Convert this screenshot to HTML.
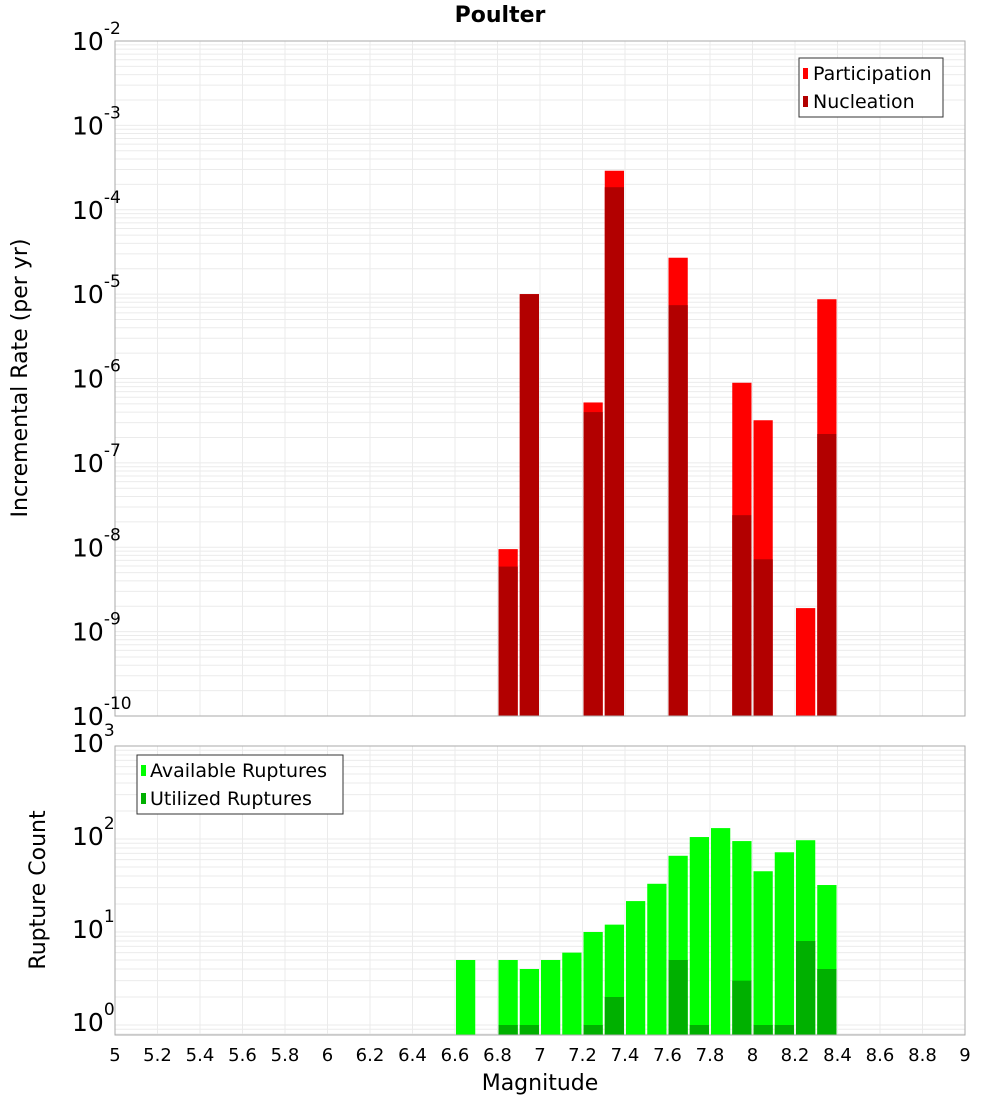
<!DOCTYPE html>
<html><head><meta charset="utf-8"><style>
body{margin:0;background:#fff;}
svg text{font-family:"DejaVu Sans","Liberation Sans",sans-serif;}
</style></head><body>
<svg id="chart" width="1000" height="1100" xmlns="http://www.w3.org/2000/svg">
<text x="500" y="22" text-anchor="middle" font-size="22" font-weight="bold">Poulter</text>
<g id="top"></g>
<g id="bot"></g>
<text transform="translate(27,378) rotate(-90)" text-anchor="middle" font-size="22">Incremental Rate (per yr)</text>
<text transform="translate(45,890) rotate(-90)" text-anchor="middle" font-size="22">Rupture Count</text>
<text x="540" y="1090" text-anchor="middle" font-size="22">Magnitude</text>
</svg>
<script>
const rateMags=[6.85,6.95,7.25,7.35,7.65,7.95,8.05,8.25,8.35];
const participation=[9.5e-9,1.0e-5,5.2e-7,2.9e-4,2.7e-5,8.9e-7,3.2e-7,1.9e-9,8.7e-6];
const nucleation=[5.9e-9,1.0e-5,4.0e-7,1.85e-4,7.4e-6,2.4e-8,7.2e-9,0,2.2e-7];
const countMags=[6.65,6.85,6.95,7.05,7.15,7.25,7.35,7.45,7.55,7.65,7.75,7.85,7.95,8.05,8.15,8.25,8.35];
const available=[5,5,4,5,6,10,12,21.5,33,66,105,131,95,45,72,97,32];
const utilized=[0,1,1,0,0,1,2,0,0,5,1,0,3,1,1,8,4];
const xTicks=[5,5.2,5.4,5.6,5.8,6,6.2,6.4,6.6,6.8,7,7.2,7.4,7.6,7.8,8,8.2,8.4,8.6,8.8,9];
const NS="http://www.w3.org/2000/svg";
const X0=115,X1=965;
function xs(m){return X0+(m-5)/4*(X1-X0);}
function el(p,t,a){const e=document.createElementNS(NS,t);for(const k in a)e.setAttribute(k,a[k]);p.appendChild(e);return e;}
function panel(g,top,bottom,logMin,logMax,prefix){
  const ys=v=>bottom-(Math.log10(v)-logMin)/(logMax-logMin)*(bottom-top);
  el(g,'rect',{x:X0,y:top,width:X1-X0,height:bottom-top,fill:'#fff'});
  for(let d=Math.floor(logMin);d<logMax;d++)for(let k=1;k<10;k++){
    const l=d+Math.log10(k);if(l<=logMin||l>=logMax)continue;
    const y=ys(Math.pow(10,l));
    const ln=el(g,'line',{x1:X0,x2:X1,y1:y,y2:y,stroke:'#ebebeb','stroke-width':1});
    
    
  }
  xTicks.forEach(t=>{const x=xs(t);
    const ln=el(g,'line',{x1:x,x2:x,y1:top,y2:bottom,stroke:'#ebebeb','stroke-width':1});
    
    });
  return ys;
}
function yLabel(g,y,exp,name){
  const t=el(g,'text',{x:72,y:y+9,'font-size':25});
  
  
  t.textContent='10';
  const s=el(t,'tspan',{dy:-16,'font-size':17});s.textContent=exp;
}
function bar(g,m,v,ys,bottom,color,name){
  if(!(v>0))return;
  const w=xs(5.1)-xs(5)-2;const y=Math.max(ys(v),0);
  const r=el(g,'rect',{x:xs(m)-w/2,y:y,width:w,height:bottom-y,fill:color});
  
  
}
const T=document.getElementById('top');
const tTop=41,tBot=716;
const ysT=panel(T,tTop,tBot,-10,-2,'rate');
rateMags.forEach((m,i)=>bar(T,m,participation[i],ysT,tBot,'#ff0000','participation-bar'));
rateMags.forEach((m,i)=>bar(T,m,nucleation[i],ysT,tBot,'#b20000','nucleation-bar'));
el(T,'rect',{x:X0,y:tTop,width:X1-X0,height:tBot-tTop,fill:'none',stroke:'#aaa'});
for(let e=-10;e<=-2;e++)yLabel(T,ysT(Math.pow(10,e)),String(e),'rate-y-tick-label');
const L1=el(T,'g',{});


el(L1,'rect',{x:799,y:58,width:144,height:59,fill:'#fff',stroke:'#333'});
el(L1,'rect',{x:803,y:68,width:5,height:11,fill:'#ff0000'});
el(L1,'rect',{x:803,y:96,width:5,height:11,fill:'#b20000'});
let t=el(L1,'text',{x:813,y:80,'font-size':19});t.textContent='Participation';
t=el(L1,'text',{x:813,y:108,'font-size':19});t.textContent='Nucleation';
const B=document.getElementById('bot');
const bTop=746,bBot=1035;
const logMinB=-(bBot-1025)/93;
const ysB=panel(B,bTop,bBot,logMinB,3,'count');
countMags.forEach((m,i)=>bar(B,m,available[i],ysB,bBot,'#00ff00','available-bar'));
countMags.forEach((m,i)=>bar(B,m,utilized[i],ysB,bBot,'#00b000','utilized-bar'));
el(B,'rect',{x:X0,y:bTop,width:X1-X0,height:bBot-bTop,fill:'none',stroke:'#aaa'});
for(let e=0;e<=3;e++)yLabel(B,ysB(Math.pow(10,e))-3,String(e),'count-y-tick-label');
const L2=el(B,'g',{});


el(L2,'rect',{x:137,y:755,width:206,height:59,fill:'#fff',stroke:'#333'});
el(L2,'rect',{x:141,y:765,width:5,height:11,fill:'#00ff00'});
el(L2,'rect',{x:141,y:793,width:5,height:11,fill:'#00b000'});
t=el(L2,'text',{x:150,y:777,'font-size':19});t.textContent='Available Ruptures';
t=el(L2,'text',{x:150,y:805,'font-size':19});t.textContent='Utilized Ruptures';
xTicks.forEach(v=>{
  const tx=el(B,'text',{x:xs(v),y:1061,'font-size':18,'text-anchor':'middle'});
  
  
  tx.textContent=String(v);
});
</script>
</body></html>
